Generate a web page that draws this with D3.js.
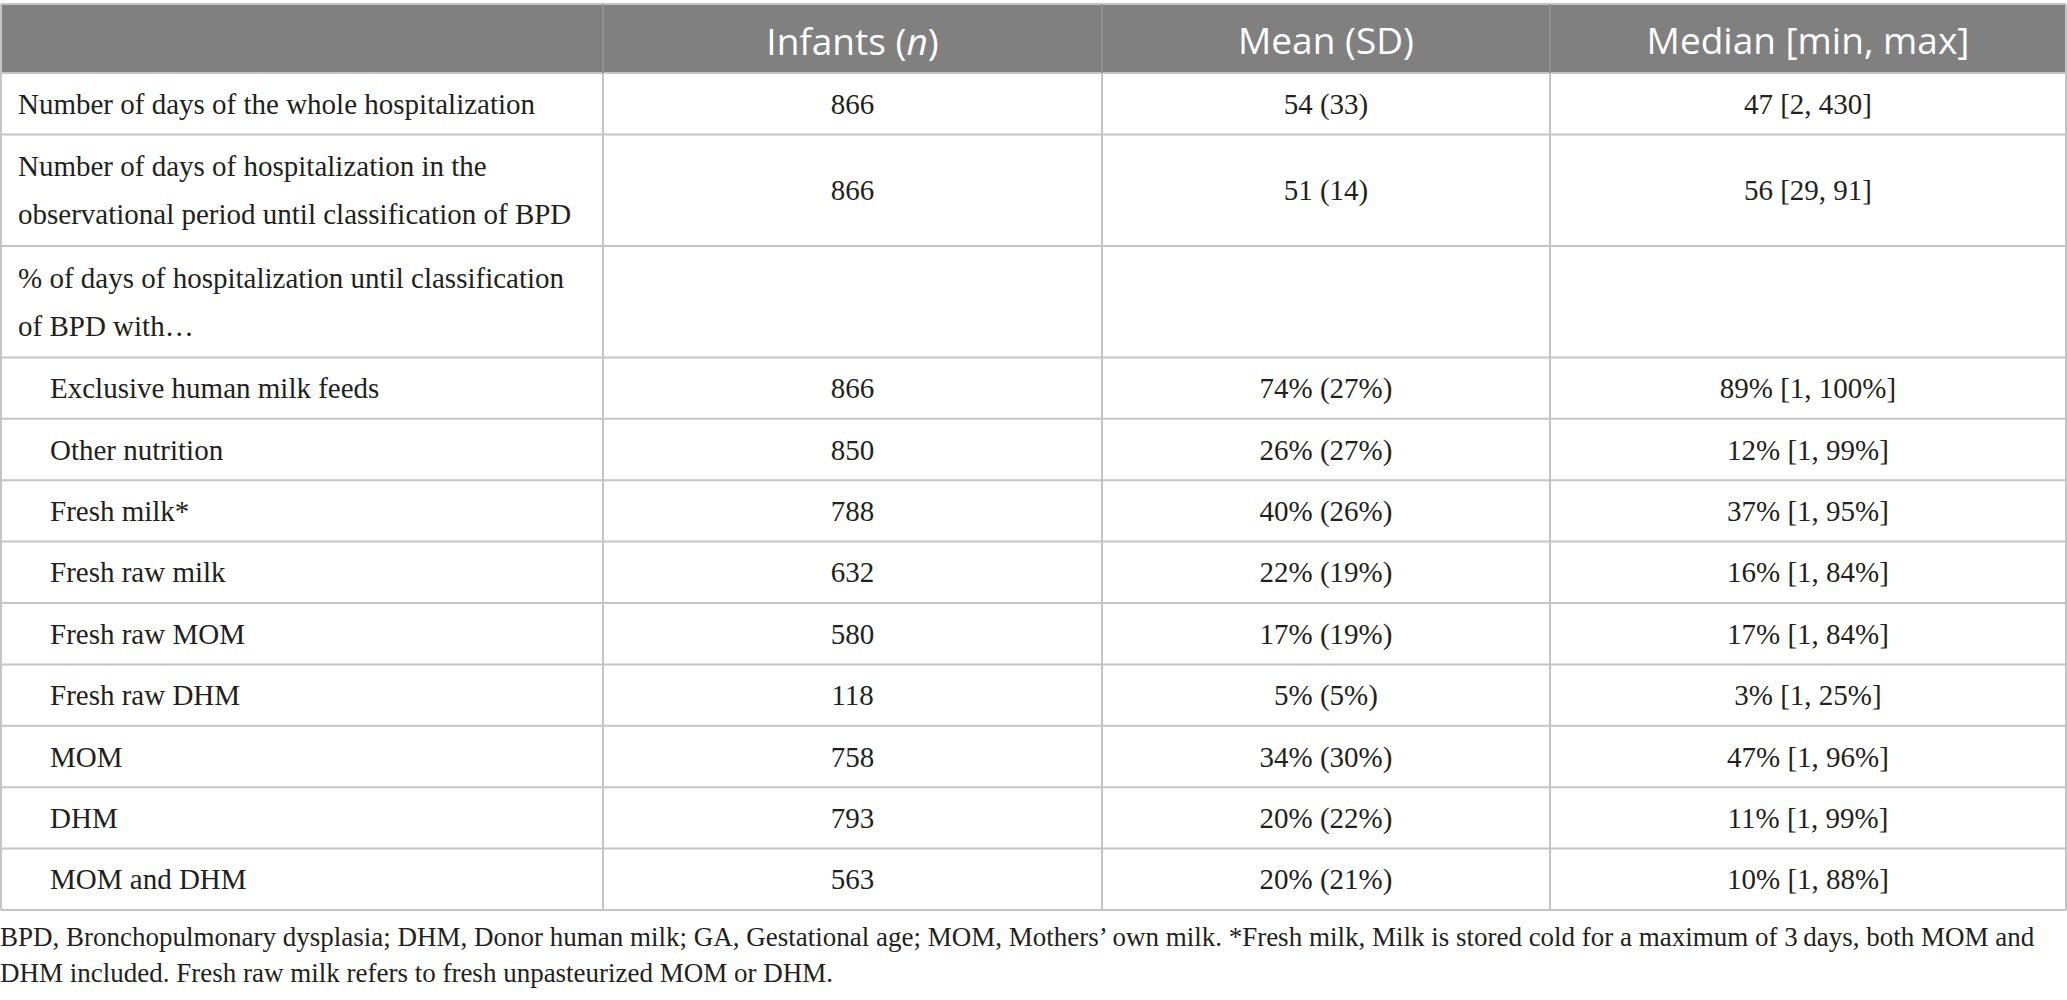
<!DOCTYPE html>
<html>
<head>
<meta charset="utf-8">
<script src="https://cdn.jsdelivr.net/npm/d3@7"></script>
<style>
  body { margin: 0; background: #fff; }
</style>
</head>
<body>
<svg id="chart" width="2067" height="1000"></svg>
<script>
// table content
const headers = ['', 'Infants (n)', 'Mean (SD)', 'Median [min, max]'];
const rowLabels = [
  ['Number of days of the whole hospitalization'],
  ['Number of days of hospitalization in the', 'observational period until classification of BPD'],
  ['% of days of hospitalization until classification', 'of BPD with\u2026'],
  ['Exclusive human milk feeds'],
  ['Other nutrition'],
  ['Fresh milk*'],
  ['Fresh raw milk'],
  ['Fresh raw MOM'],
  ['Fresh raw DHM'],
  ['MOM'],
  ['DHM'],
  ['MOM and DHM']
];
const indented = [false, false, false, true, true, true, true, true, true, true, true, true];
const infants = ['866', '866', '', '866', '850', '788', '632', '580', '118', '758', '793', '563'];
const meanSD = ['54 (33)', '51 (14)', '', '74% (27%)', '26% (27%)', '40% (26%)', '22% (19%)', '17% (19%)', '5% (5%)', '34% (30%)', '20% (22%)', '20% (21%)'];
const medianRange = ['47 [2, 430]', '56 [29, 91]', '', '89% [1, 100%]', '12% [1, 99%]', '37% [1, 95%]', '16% [1, 84%]', '17% [1, 84%]', '3% [1, 25%]', '47% [1, 96%]', '11% [1, 99%]', '10% [1, 88%]'];
const footnote = [
  'BPD, Bronchopulmonary dysplasia; DHM, Donor human milk; GA, Gestational age; MOM, Mothers\u2019 own milk. *Fresh milk, Milk is stored cold for a maximum of 3\u2009days, both MOM and',
  'DHM included. Fresh raw milk refers to fresh unpasteurized MOM or DHM.'
];

const svg = d3.select('#chart');
const serif = '"Liberation Serif", "DejaVu Serif", serif';
const sans = '"Open Sans", "Noto Sans", sans-serif';
const lineCol = '#c4c4c4';

// column edges and row heights
const colEdges = [1, 603, 1102, 1550, 2066];
const tableTop = 4, headH = 69;
const rowH = rowLabels.map(r => r.length > 1 ? 111.5 : 61.4);
const rowTops = [tableTop + headH];
rowH.forEach((h, i) => rowTops.push(rowTops[i] + h));
const tableBottom = rowTops[rowTops.length - 1];

const xMid = i => (colEdges[i] + colEdges[i + 1]) / 2;

// header band
svg.append('rect')
  .attr('x', colEdges[0]).attr('y', tableTop)
  .attr('width', colEdges[4] - colEdges[0]).attr('height', headH)
  .attr('fill', '#7f807f');

const ht = svg.selectAll('text.head')
  .data(headers).enter().append('text')
  .attr('class', 'head')
  .attr('x', (d, i) => xMid(i))
  .attr('y', tableTop + headH / 2 + 1)
  .attr('text-anchor', 'middle')
  .attr('dominant-baseline', 'central')
  .attr('fill', '#fff')
  .attr('font-family', sans)
  .attr('font-size', 37);
ht.each(function(d) {
  const t = d3.select(this);
  if (d === 'Infants (n)') {
    t.append('tspan').text('Infants (');
    t.append('tspan').attr('font-style', 'italic').text('n');
    t.append('tspan').text(')');
  } else t.text(d);
});

// grid lines
const g = svg.append('g').attr('stroke', lineCol).attr('stroke-width', 2);
[tableTop].concat(rowTops).forEach(y => {
  g.append('line').attr('x1', colEdges[0]).attr('x2', colEdges[4]).attr('y1', y).attr('y2', y);
});
colEdges.forEach((cx, i) => {
  g.append('line').attr('x1', cx).attr('x2', cx)
    .attr('y1', (i === 0 || i === 4) ? tableTop : tableTop + headH)
    .attr('y2', tableBottom);
});
// inner column lines inside the grey header
colEdges.slice(1, 4).forEach(cx => {
  svg.append('line').attr('x1', cx).attr('x2', cx).attr('y1', tableTop).attr('y2', tableTop + headH)
    .attr('stroke', '#8f908f').attr('stroke-width', 2);
});

// body cells
const lineGap = 48;
const body = svg.append('g')
  .attr('font-family', serif)
  .attr('font-size', 29)
  .attr('fill', '#231f20');

rowLabels.forEach((lines, r) => {
  const cy = rowTops[r] + rowH[r] / 2;
  lines.forEach((ln, k) => {
    body.append('text')
      .attr('x', indented[r] ? 50 : 18)
      .attr('y', cy + (k - (lines.length - 1) / 2) * lineGap)
      .attr('dominant-baseline', 'central')
      .text(ln);
  });
  [infants[r], meanSD[r], medianRange[r]].forEach((v, c) => {
    if (!v) return;
    body.append('text')
      .attr('x', xMid(c + 1))
      .attr('y', cy)
      .attr('text-anchor', 'middle')
      .attr('dominant-baseline', 'central')
      .text(v);
  });
});

// footnote
svg.append('g')
  .attr('font-family', serif)
  .attr('font-size', 27)
  .attr('fill', '#231f20')
  .selectAll('text').data(footnote).enter().append('text')
  .attr('x', 0)
  .attr('y', (d, i) => 937 + i * 36)
  .attr('dominant-baseline', 'central')
  .text(d => d);
</script>
</body>
</html>
